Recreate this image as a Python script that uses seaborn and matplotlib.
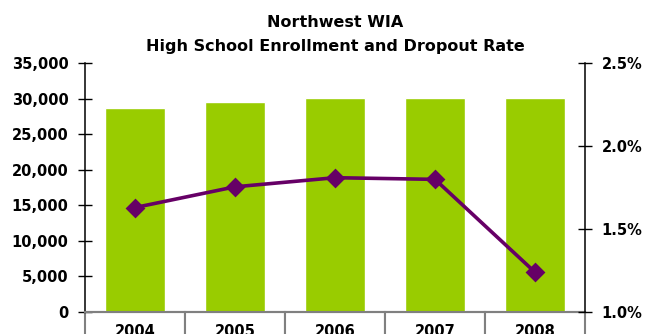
import matplotlib
matplotlib.use("Agg")
import matplotlib.pyplot as plt
import matplotlib.ticker as mticker
import pandas as pd
import seaborn as sns

years = ["2004", "2005", "2006", "2007", "2008"]
enrollment = [28700, 29550, 30100, 30100, 30100]
dropout_rate = [1.63, 1.755, 1.81, 1.80, 1.24]

df = pd.DataFrame({"year": years, "enrollment": enrollment, "dropout": dropout_rate})

sns.set_style("white")
plt.rcParams["font.family"] = ["DejaVu Sans"]
plt.rcParams["font.weight"] = "bold"
plt.rcParams["text.color"] = "black"
plt.rcParams["ytick.labelcolor"] = "black"
plt.rcParams["ytick.color"] = "black"

fig = plt.figure(figsize=(6.57, 3.34), dpi=100)
ax = fig.add_axes([85 / 657, 22 / 334, 500 / 657, 248.7 / 334])

sns.barplot(data=df, x="year", y="enrollment", color="#99CC00", width=0.6,
            saturation=1, ax=ax)
ax.set_ylim(0, 35000)
ax.set_yticks(range(0, 35001, 5000))
ax.yaxis.set_major_formatter(mticker.StrMethodFormatter("{x:,.0f}"))
ax.set_xlabel("")
ax.set_ylabel("")
ax.set_xticks([])
ax.set_xlim(-0.5, len(years) - 0.5)

ax2 = ax.twinx()
sns.pointplot(data=df, x="year", y="dropout", color="#660066", markers="D",
              markersize=8, linewidth=2.6, errorbar=None, ax=ax2)
ax2.set_ylim(1.0, 2.5)
ax2.set_yticks([1.0, 1.5, 2.0, 2.5])
ax2.yaxis.set_major_formatter(mticker.StrMethodFormatter("{x:.1f}%"))
ax2.set_xlabel("")
ax2.set_ylabel("")
ax2.set_xticks([])
ax2.set_xlim(-0.5, len(years) - 0.5)

for a in (ax, ax2):
    a.tick_params(axis="y", direction="inout", length=10, width=1, color="black",
                  labelcolor="black", labelsize=10.5, pad=7)
    for s in a.spines.values():
        s.set_visible(False)
ax.spines["left"].set_visible(True)
ax.spines["left"].set_color("black")
ax.spines["left"].set_linewidth(1.1)
ax2.spines["right"].set_visible(True)
ax2.spines["right"].set_color("black")
ax2.spines["right"].set_linewidth(1.1)
ax.spines["bottom"].set_visible(True)
ax.spines["bottom"].set_color("#808080")
ax.spines["bottom"].set_linewidth(1.5)
for lbl in ax.get_yticklabels() + ax2.get_yticklabels():
    lbl.set_fontweight("bold")

# year labels in a table under the axis
tbl = ax.table(cellText=[years], cellLoc="center", bbox=[0, -0.155, 1, 0.155])
tbl.auto_set_font_size(False)
for cell in tbl.get_celld().values():
    cell.set_edgecolor("#808080")
    cell.set_linewidth(1.5)
    cell.get_text().set_fontsize(10.5)
    cell.get_text().set_fontweight("bold")
    cell.get_text().set_color("black")

ax.set_title("Northwest WIA\nHigh School Enrollment and Dropout Rate",
             fontsize=11.5, fontweight="bold", color="black", pad=9,
             linespacing=1.75)

fig.savefig("out.png", dpi=100)
